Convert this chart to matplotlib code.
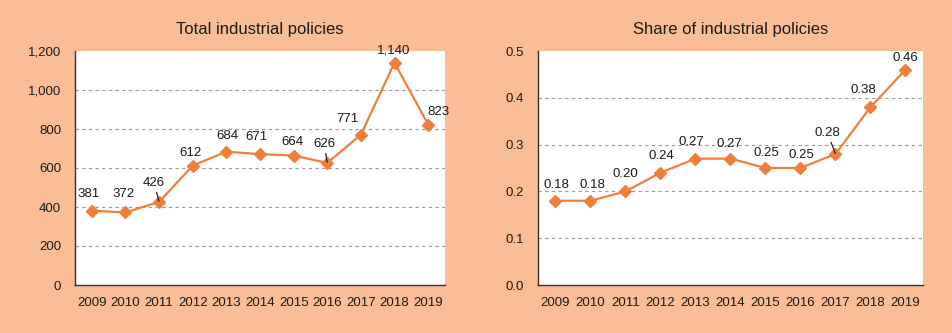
import matplotlib
matplotlib.use("Agg")
import matplotlib.pyplot as plt
from matplotlib.ticker import FuncFormatter

years = ["2009", "2010", "2011", "2012", "2013", "2014", "2015", "2016", "2017", "2018", "2019"]
total_policies = [381, 372, 426, 612, 684, 671, 664, 626, 771, 1140, 823]
share_policies = [0.18, 0.18, 0.20, 0.24, 0.27, 0.27, 0.25, 0.25, 0.28, 0.38, 0.46]

BG = "#FBBD95"
LINE = "#F07F3C"
TEXT = "#1a1a1a"

plt.rcParams["font.family"] = ["Liberation Sans", "DejaVu Sans"]

fig = plt.figure(figsize=(9.53, 3.33), dpi=100, facecolor=BG)
W, H = 953, 333
PX = 72 / 100  # pixels to points


def add_axes_px(x0, y0, x1, y1):
    return fig.add_axes([x0 / W, 1 - y1 / H, (x1 - x0) / W, (y1 - y0) / H])


ax1 = add_axes_px(75, 51, 445, 285)
ax2 = add_axes_px(538, 51, 923, 285)

# label centre offsets (pixels) from each marker; flag marks a leader line
left_offsets = [(-3, 17), (-2, 18), (-5, 19), (-2, 13), (1, 16), (-3, 17), (-1, 14), (-3, 19), (-13, 16), (-1, 12), (10, 13)]
left_arrow = [False, False, True, False, False, False, False, True, False, False, False]
right_offsets = [(1, 16), (2, 16), (0, 17), (1, 17), (-4, 17), (-1, 15), (1, 15), (1, 13), (-8, 21), (-7, 17), (0, 12)]
right_arrow = [False, False, False, False, False, False, False, False, True, False, False]


def draw(ax, values, ymax, step, fmt, label_fmt, offsets, arrows, title):
    ax.set_facecolor("white")
    x = list(range(len(years)))
    ax.plot(x, values, color=LINE, lw=1.6, marker="D", ms=6.5, mfc=LINE, mec=LINE, zorder=3)
    ax.set_xlim(-0.5, len(years) - 0.5)
    ax.set_ylim(0, ymax)
    yt = [i * step for i in range(int(round(ymax / step)) + 1)]
    ax.set_yticks(yt)
    ax.yaxis.set_major_formatter(FuncFormatter(fmt))
    ax.set_xticks(x)
    ax.set_xticklabels(years)
    for y in yt[1:-1]:
        ax.axhline(y, color="#9a9a9a", lw=0.8, ls=(0, (3, 3)), zorder=1)
    for side in ("top", "right"):
        ax.spines[side].set_visible(False)
    for side in ("left", "bottom"):
        ax.spines[side].set_color("#333333")
        ax.spines[side].set_linewidth(1.0)
    ax.tick_params(axis="y", length=0, pad=10, labelsize=9.5, colors=TEXT)
    ax.tick_params(axis="x", length=0, pad=9, labelsize=9.5, colors=TEXT)
    ax.set_title(title, fontsize=12, color=TEXT, pad=12)
    for i, v in enumerate(values):
        dx, dy = offsets[i]
        kw = {}
        if arrows[i]:
            kw["arrowprops"] = dict(arrowstyle="-", color="#222222", lw=0.9, shrinkA=0.5, shrinkB=0.5)
        ax.annotate(label_fmt(v), (i, v), xytext=(dx * PX, dy * PX), textcoords="offset points",
                    ha="center", va="center", fontsize=9.5, color=TEXT, zorder=4, **kw)


draw(ax1, total_policies, 1200, 200, lambda v, p: f"{int(v):,}", lambda v: f"{v:,}",
     left_offsets, left_arrow, "Total industrial policies")
draw(ax2, share_policies, 0.5, 0.1, lambda v, p: f"{v:.1f}", lambda v: f"{v:.2f}",
     right_offsets, right_arrow, "Share of industrial policies")

fig.savefig("out.png", dpi=100, facecolor=BG)
